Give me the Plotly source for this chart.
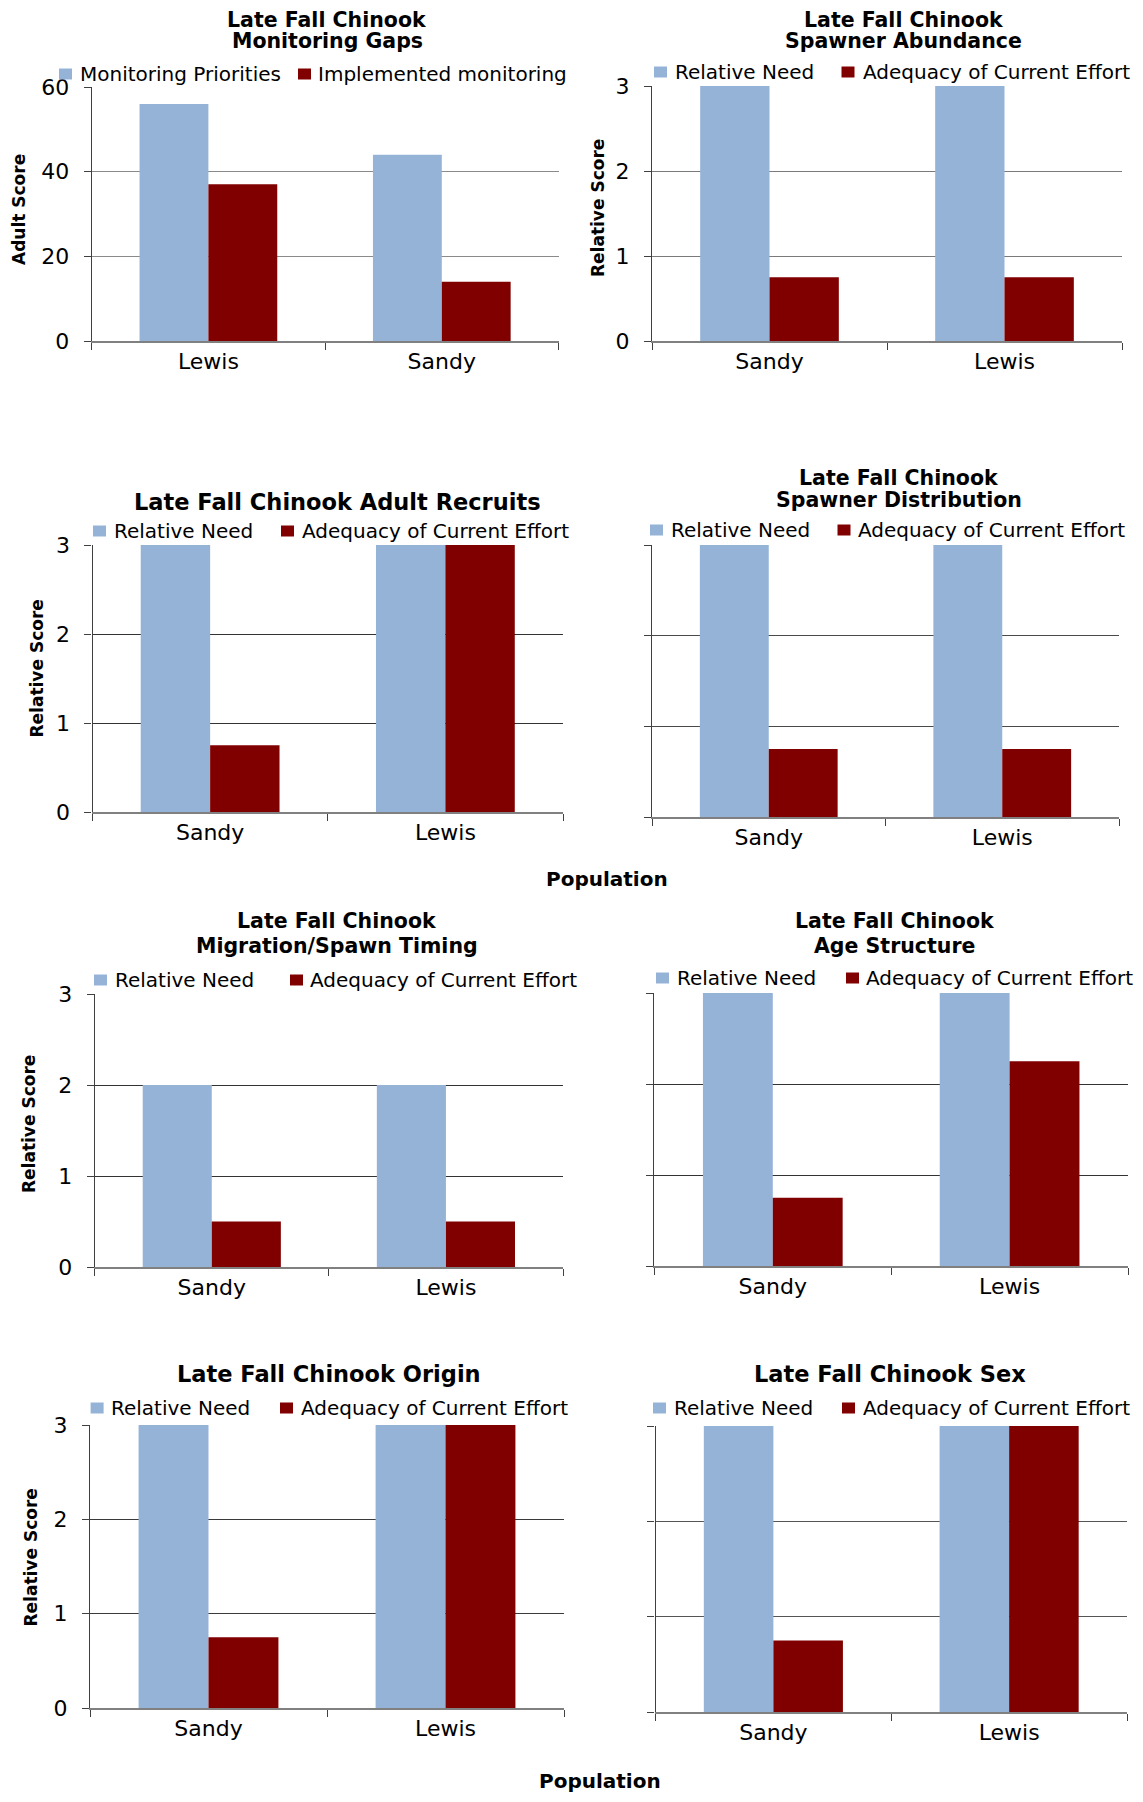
import plotly.graph_objects as go

W, H = 1143, 1802
PAGE_MARGIN = 8  # default body margin of the html page
FW, FH = W - 2 * PAGE_MARGIN, H - 2 * PAGE_MARGIN
BLUE = "#95B3D7"
RED = "#800000"
FONT = "DejaVu Sans"

# ---------------- data ----------------
gaps_categories = ["Lewis", "Sandy"]
gaps_priorities = [56, 44]
gaps_implemented = [37, 14]

pop_categories = ["Sandy", "Lewis"]
abundance_need = [3, 3]
abundance_adequacy = [0.75, 0.75]
recruits_need = [3, 3]
recruits_adequacy = [0.75, 3]
distribution_need = [3, 3]
distribution_adequacy = [0.75, 0.75]
timing_need = [2, 2]
timing_adequacy = [0.5, 0.5]
age_need = [3, 3]
age_adequacy = [0.75, 2.25]
origin_need = [3, 3]
origin_adequacy = [0.75, 3]
sex_need = [3, 3]
sex_adequacy = [0.75, 3]

gaps_series = ["Monitoring Priorities", "Implemented monitoring"]
rel_series = ["Relative Need", "Adequacy of Current Effort"]

# ---------------- panel layout (pixels in the page) ----------------
panels = [
    dict(cats=gaps_categories, a=gaps_priorities, b=gaps_implemented, names=gaps_series,
         x0=91.7, x1=558.5, y0=87, y1=341, ymax=60, dtick=20, labels=True, grid="#8a8a8a",
         title=["Late Fall Chinook", "Monitoring Gaps"], tx=327, ty=[20, 41.5],
         ytitle="Adult Score", ytx=19, yty=210,
         leg=dict(y=74, bsq=59, btx=77.7, rsq=298, rtx=315.5)),
    dict(cats=pop_categories, a=abundance_need, b=abundance_adequacy, names=rel_series,
         x0=652, x1=1122, y0=86, y1=341, ymax=3, dtick=1, labels=True, grid="#7a7a7a",
         title=["Late Fall Chinook", "Spawner Abundance"], tx=904, ty=[20, 41.5],
         ytitle="Relative Score", ytx=598, yty=208,
         leg=dict(y=72, bsq=654, btx=673, rsq=841.5, rtx=860.5)),
    dict(cats=pop_categories, a=recruits_need, b=recruits_adequacy, names=rel_series,
         x0=92.5, x1=563, y0=545, y1=812, ymax=3, dtick=1, labels=True, grid="#333333",
         title=["Late Fall Chinook Adult Recruits"], tx=337, ty=[502],
         ytitle="Relative Score", ytx=36.5, yty=669,
         leg=dict(y=531, bsq=93, btx=111.7, rsq=281, rtx=299.6)),
    dict(cats=pop_categories, a=distribution_need, b=distribution_adequacy, names=rel_series,
         x0=652, x1=1119, y0=545, y1=817, ymax=3, dtick=1, labels=False, grid="#4a4a4a",
         title=["Late Fall Chinook", "Spawner Distribution"], tx=899, ty=[478, 500],
         ytitle=None,
         leg=dict(y=530, bsq=650, btx=668.7, rsq=837.5, rtx=856)),
    dict(cats=pop_categories, a=timing_need, b=timing_adequacy, names=rel_series,
         x0=94.7, x1=563, y0=994, y1=1267, ymax=3, dtick=1, labels=True, grid="#333333",
         title=["Late Fall Chinook", "Migration/Spawn Timing"], tx=337, ty=[921, 946],
         ytitle="Relative Score", ytx=29, yty=1124,
         leg=dict(y=980, bsq=94, btx=112.8, rsq=290, rtx=308)),
    dict(cats=pop_categories, a=age_need, b=age_adequacy, names=rel_series,
         x0=654.4, x1=1128, y0=993, y1=1266, ymax=3, dtick=1, labels=False, grid="#333333",
         title=["Late Fall Chinook", "Age Structure"], tx=894.5, ty=[921, 946],
         ytitle=None,
         leg=dict(y=978, bsq=656, btx=675, rsq=846, rtx=864)),
    dict(cats=pop_categories, a=origin_need, b=origin_adequacy, names=rel_series,
         x0=90, x1=564, y0=1425, y1=1708, ymax=3, dtick=1, labels=True, grid="#3a3a3a",
         title=["Late Fall Chinook Origin"], tx=328.5, ty=[1374],
         ytitle="Relative Score", ytx=30.5, yty=1558,
         leg=dict(y=1408, bsq=90.6, btx=109, rsq=280, rtx=299)),
    dict(cats=pop_categories, a=sex_need, b=sex_adequacy, names=rel_series,
         x0=655.5, x1=1127, y0=1426, y1=1712, ymax=3, dtick=1, labels=False, grid="#555555",
         title=["Late Fall Chinook Sex"], tx=890, ty=[1374],
         ytitle=None,
         leg=dict(y=1408, bsq=653, btx=671.6, rsq=842, rtx=861)),
]


def px(x):
    return (x - PAGE_MARGIN) / FW


def py(y):
    return 1 - (y - PAGE_MARGIN) / FH


fig = go.Figure()
annotations = []
shapes = []
layout = {}

for i, p in enumerate(panels, start=1):
    xa = "x" if i == 1 else f"x{i}"
    ya = "y" if i == 1 else f"y{i}"
    fig.add_trace(go.Bar(x=p["cats"], y=p["a"], name=p["names"][0], marker_color=BLUE,
                         marker_line_width=0, xaxis=xa, yaxis=ya, showlegend=False))
    fig.add_trace(go.Bar(x=p["cats"], y=p["b"], name=p["names"][1], marker_color=RED,
                         marker_line_width=0, xaxis=xa, yaxis=ya, showlegend=False))
    xkey = "xaxis" if i == 1 else f"xaxis{i}"
    ykey = "yaxis" if i == 1 else f"yaxis{i}"
    layout[xkey] = dict(
        domain=[px(p["x0"]), px(p["x1"])], anchor=ya, type="category",
        showline=True, linecolor="#808080", linewidth=1.5,
        ticks="outside", tickson="boundaries", ticklen=7, tickcolor="#404040",
        showgrid=False, tickfont=dict(family=FONT, size=22, color="black"),
        automargin=False, fixedrange=True,
    )
    layout[ykey] = dict(
        domain=[py(p["y1"]), py(p["y0"])], anchor=xa, range=[0, p["ymax"]],
        dtick=p["dtick"], tick0=0, showline=True, linecolor="#404040", linewidth=1.2,
        ticks="outside", ticklen=7, tickcolor="#404040",
        showgrid=True, gridcolor=p["grid"], gridwidth=1.3, zeroline=False,
        showticklabels=p["labels"], ticklabelstandoff=10,
        tickfont=dict(family=FONT, size=22, color="black"),
        automargin=False, fixedrange=True,
    )
    # titles (single-line titles have more room, so they can be larger)
    tsize = 20.5 if len(p["title"]) > 1 else 22.5
    for line, ty in zip(p["title"], p["ty"]):
        annotations.append(dict(text=f"<b>{line}</b>", x=px(p["tx"]), y=py(ty),
                                xref="paper", yref="paper", xanchor="center", yanchor="middle",
                                showarrow=False, font=dict(family=FONT, size=tsize, color="black")))
    # y title
    if p["ytitle"]:
        annotations.append(dict(text=f"<b>{p['ytitle']}</b>", x=px(p["ytx"]), y=py(p["yty"]),
                                xref="paper", yref="paper", xanchor="center", yanchor="middle",
                                textangle=-90, showarrow=False,
                                font=dict(family=FONT, size=17, color="black")))
    # legend
    lg = p["leg"]
    for sq, tx, col, name in [(lg["bsq"], lg["btx"], BLUE, p["names"][0]),
                              (lg["rsq"], lg["rtx"], RED, p["names"][1])]:
        shapes.append(dict(type="rect", xref="paper", yref="paper",
                           x0=px(sq), x1=px(sq + 13), y0=py(lg["y"] + 5.5), y1=py(lg["y"] - 5.5),
                           fillcolor=col, line=dict(width=0)))
        annotations.append(dict(text=name, x=px(tx), y=py(lg["y"]), xref="paper", yref="paper",
                                xanchor="left", yanchor="middle", showarrow=False,
                                font=dict(family=FONT, size=20, color="black")))

# shared x-axis titles
for (x, y) in [(607, 879), (600, 1781)]:
    annotations.append(dict(text="<b>Population</b>", x=px(x), y=py(y), xref="paper", yref="paper",
                            xanchor="center", yanchor="middle", showarrow=False,
                            font=dict(family=FONT, size=20, color="black")))

fig.update_layout(
    template="none",
    width=FW, height=FH, margin=dict(l=0, r=0, t=0, b=0, pad=0),
    paper_bgcolor="white", plot_bgcolor="white",
    barmode="group", bargap=0.41, bargroupgap=0,
    showlegend=False, annotations=annotations, shapes=shapes,
    font=dict(family=FONT, color="black"),
    **layout,
)

fig.write_html("out.html")
